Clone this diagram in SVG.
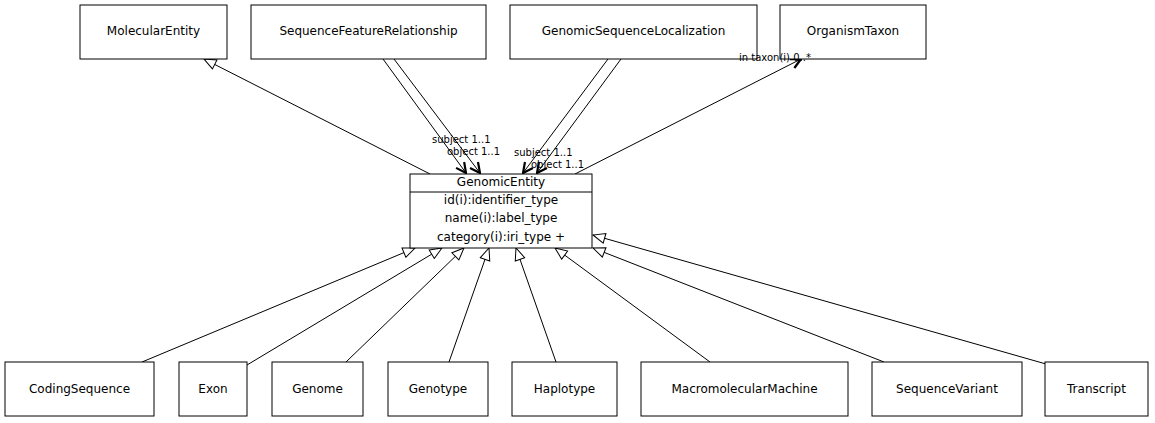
<svg xmlns="http://www.w3.org/2000/svg" width="1155" height="423" viewBox="0 0 1155 423">
<defs>
<style>
.box{fill:#fff;stroke:#000;stroke-width:1}
.lbl{font-family:"DejaVu Sans",sans-serif;font-size:12px;fill:#000;text-anchor:middle;dominant-baseline:central}
.el{font-family:"DejaVu Sans",sans-serif;font-size:10px;fill:#000}
.ln{stroke:#000;stroke-width:1;fill:none}
</style>
<marker id="gen" viewBox="0 0 14 12" refX="13" refY="6" markerWidth="14" markerHeight="12" markerUnits="userSpaceOnUse" orient="auto">
<path d="M1,1 L13,6 L1,11 Z" fill="#fff" stroke="#000" stroke-width="1"/>
</marker>
<marker id="arr" viewBox="0 0 12 12" refX="11" refY="6" markerWidth="12" markerHeight="12" markerUnits="userSpaceOnUse" orient="auto">
<path d="M1,1 L11,6 L1,11" fill="none" stroke="#000" stroke-width="2.2"/>
</marker>
</defs>
<rect width="1155" height="423" fill="#fff"/>
<g id="connectors">
<line class="ln" x1="430" y1="174" x2="204" y2="59" marker-end="url(#gen)"/>
<line class="ln" x1="383" y1="59" x2="466" y2="173" marker-end="url(#arr)"/>
<line class="ln" x1="394" y1="59" x2="480" y2="173" marker-end="url(#arr)"/>
<line class="ln" x1="608" y1="59" x2="523" y2="173" marker-end="url(#arr)"/>
<line class="ln" x1="621" y1="59" x2="537" y2="173" marker-end="url(#arr)"/>
<line class="ln" x1="575" y1="174" x2="801" y2="59" marker-end="url(#arr)"/>
<line class="ln" x1="142" y1="362" x2="415" y2="248" marker-end="url(#gen)"/>
<line class="ln" x1="247" y1="365" x2="442" y2="248" marker-end="url(#gen)"/>
<line class="ln" x1="346" y1="362" x2="464" y2="248" marker-end="url(#gen)"/>
<line class="ln" x1="449" y1="362" x2="489" y2="248" marker-end="url(#gen)"/>
<line class="ln" x1="556" y1="362" x2="516" y2="248" marker-end="url(#gen)"/>
<line class="ln" x1="710" y1="362" x2="555" y2="248" marker-end="url(#gen)"/>
<line class="ln" x1="884" y1="362" x2="593" y2="248" marker-end="url(#gen)"/>
<line class="ln" x1="1046" y1="364" x2="593" y2="235" marker-end="url(#gen)"/>
</g>
<g id="MolecularEntity"><rect class="box" x="80" y="5" width="147" height="54"/><text class="lbl" x="153.5" y="31">MolecularEntity</text></g>
<g id="SequenceFeatureRelationship"><rect class="box" x="251" y="5" width="235" height="54"/><text class="lbl" x="368.5" y="31">SequenceFeatureRelationship</text></g>
<g id="GenomicSequenceLocalization"><rect class="box" x="510" y="5" width="247" height="54"/><text class="lbl" x="633.5" y="31">GenomicSequenceLocalization</text></g>
<g id="OrganismTaxon"><rect class="box" x="780" y="5" width="146" height="54"/><text class="lbl" x="853" y="31">OrganismTaxon</text></g>
<g id="GenomicEntity">
<rect class="box" x="410" y="174" width="182" height="74"/>
<line class="ln" x1="410" y1="192" x2="592" y2="192"/>
<text class="lbl" x="501" y="182">GenomicEntity</text>
<text class="lbl" x="501" y="200">id(i):identifier_type</text>
<text class="lbl" x="501" y="218">name(i):label_type</text>
<text class="lbl" x="501" y="237">category(i):iri_type +</text>
</g>
<g id="CodingSequence"><rect class="box" x="5" y="362" width="149" height="54"/><text class="lbl" x="79.5" y="389">CodingSequence</text></g>
<g id="Exon"><rect class="box" x="179" y="362" width="68" height="54"/><text class="lbl" x="213" y="389">Exon</text></g>
<g id="Genome"><rect class="box" x="272" y="362" width="91" height="54"/><text class="lbl" x="317.5" y="389">Genome</text></g>
<g id="Genotype"><rect class="box" x="388" y="362" width="100" height="54"/><text class="lbl" x="438" y="389">Genotype</text></g>
<g id="Haplotype"><rect class="box" x="512" y="362" width="105" height="54"/><text class="lbl" x="564.5" y="389">Haplotype</text></g>
<g id="MacromolecularMachine"><rect class="box" x="641" y="362" width="207" height="54"/><text class="lbl" x="744.5" y="389">MacromolecularMachine</text></g>
<g id="SequenceVariant"><rect class="box" x="872" y="362" width="150" height="54"/><text class="lbl" x="947" y="389">SequenceVariant</text></g>
<g id="Transcript"><rect class="box" x="1045" y="362" width="103" height="54"/><text class="lbl" x="1096.5" y="389">Transcript</text></g>
<g id="edge-labels">
<text class="el" x="432" y="143">subject 1..1</text>
<text class="el" x="447" y="155">object 1..1</text>
<text class="el" x="514" y="156">subject 1..1</text>
<text class="el" x="531" y="168">object 1..1</text>
<text class="el" x="739" y="61">in taxon(i) 0..*</text>
</g>
</svg>
